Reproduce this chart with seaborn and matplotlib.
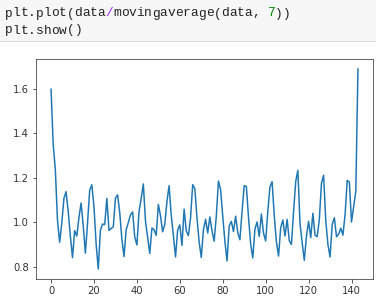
import matplotlib
matplotlib.use("Agg")
import matplotlib.pyplot as plt
import seaborn as sns
import pandas as pd
from matplotlib.patches import Rectangle

# ratio of data to its 7-point moving average
ratio = [
    1.597, 1.350, 1.237, 1.009, 0.910, 0.996, 1.107, 1.137, 1.048, 0.938, 0.841, 0.962,
    0.938, 1.021, 1.086, 0.983, 0.861, 0.995, 1.144, 1.168, 1.070, 0.904, 0.790, 0.963,
    0.992, 0.989, 1.107, 0.963, 0.972, 0.979, 1.108, 1.123, 1.044, 0.924, 0.846, 0.967,
    0.998, 1.033, 1.046, 0.934, 0.898, 1.048, 1.107, 1.172, 1.005, 0.932, 0.860, 0.974,
    0.966, 0.941, 1.080, 1.029, 0.957, 0.991, 1.093, 1.164, 1.032, 0.941, 0.844, 0.966,
    0.988, 0.896, 1.059, 0.961, 0.940, 1.019, 1.169, 1.150, 1.019, 0.912, 0.842, 0.965,
    1.013, 0.952, 1.024, 0.961, 0.915, 1.028, 1.185, 1.146, 1.027, 0.915, 0.826, 0.983,
    1.004, 0.958, 1.027, 0.954, 0.921, 1.049, 1.164, 1.161, 1.023, 0.903, 0.840, 0.969,
    1.001, 0.936, 1.037, 0.951, 0.916, 1.049, 1.159, 1.182, 1.030, 0.912, 0.848, 0.975,
    1.010, 0.938, 1.013, 0.917, 0.900, 1.047, 1.183, 1.233, 0.995, 0.909, 0.829, 0.937,
    1.004, 0.931, 1.040, 0.942, 0.935, 1.012, 1.175, 1.211, 1.008, 0.901, 0.844, 0.990,
    1.020, 0.935, 0.946, 0.973, 0.942, 1.034, 1.188, 1.180, 1.001, 1.069, 1.139, 1.688,
]
index = list(range(len(ratio)))

code_line1 = "plt.plot(data/movingaverage(data, 7))"
code_line2 = "plt.show()"

df = pd.DataFrame({"i": index, "r": ratio})

W, H = 379, 301
fig = plt.figure(figsize=(W / 72, H / 72), dpi=72)
fig.patch.set_facecolor("white")

# notebook input cell background
fig.add_artist(Rectangle((0, 1 - 42 / H), 376 / W, 42 / H, transform=fig.transFigure,
                         facecolor="#f7f7f7", edgecolor="none", zorder=0))
fig.add_artist(Rectangle((0, 1 - 42 / H), 376 / W, 1 / H, transform=fig.transFigure,
                         facecolor="#d8d8d8", edgecolor="none", zorder=1))

charw = 7.72
x0 = 5
special = {13: "#aa22ff", 34: "#008800"}
for k, ch in enumerate(code_line1):
    fig.text((x0 + k * charw) / W, 1 - 16.5 / H, ch, family="Liberation Mono",
             fontsize=12.9, color=special.get(k, "#222222"), va="baseline", ha="left")
for k, ch in enumerate(code_line2):
    fig.text((x0 + k * charw) / W, 1 - 33.5 / H, ch, family="Liberation Mono",
             fontsize=12.9, color="#222222", va="baseline", ha="left")

ax = fig.add_axes([35.7 / W, 1 - 279 / H, (373.3 - 35.7) / W, (279 - 59) / H])
sns.lineplot(data=df, x="i", y="r", ax=ax, color="#1f77b4", linewidth=1.5)
ax.set_xlabel("")
ax.set_ylabel("")
ax.set_xticks([0, 20, 40, 60, 80, 100, 120, 140])
ax.set_yticks([0.8, 1.0, 1.2, 1.4, 1.6])
for s in ax.spines.values():
    s.set_color("#444444")
ax.tick_params(colors="#333333", labelsize=10)

fig.savefig("out.png", dpi=72)
